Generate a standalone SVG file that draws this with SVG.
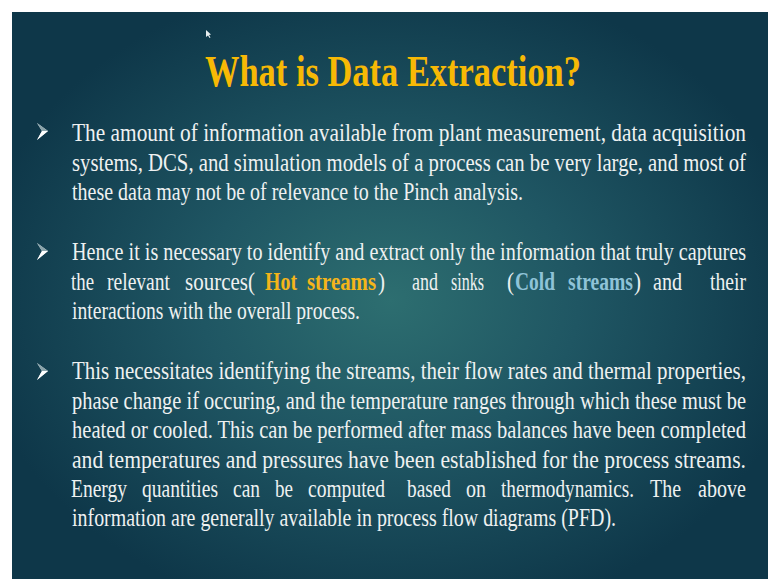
<svg xmlns="http://www.w3.org/2000/svg" width="768" height="579" viewBox="0 0 768 579">
  <defs>
    <radialGradient id="slideBg" cx="390" cy="300" r="420" gradientUnits="userSpaceOnUse" gradientTransform="translate(390 300) scale(1 0.78) translate(-390 -300)">
      <stop offset="0" stop-color="#2d6e70"/>
      <stop offset="0.45" stop-color="#1f5663"/>
      <stop offset="1" stop-color="#0e3749"/>
    </radialGradient>
    <g id="bullet">
      <polygon points="0,0 11,8 0,17 5,8" fill="#d9e2e4"/>
      <polygon points="0,17 11,8 5,8" fill="#ffffff"/>
      <polygon points="0,0 11,8 5,8" fill="#8aa3aa"/>
    </g>
  </defs>
  <style>
    .title { font-family: "Liberation Serif", "Times New Roman", serif; font-weight: bold; font-size: 44px; fill: #f7b905; }
    .body { font-family: "Liberation Serif", "Times New Roman", serif; font-size: 25px; fill: #eef1f1; }
    .hot { fill: #f4b51a; font-weight: bold; }
    .cold { fill: #8fc3d8; font-weight: bold; }
  </style>

  <!-- page margin and slide background -->
  <rect x="0" y="0" width="768" height="579" fill="#ffffff"/>
  <rect x="12" y="12" width="756" height="567" fill="url(#slideBg)"/>

  <!-- pointer -->
  <polygon points="206,30 206,37 208,35.5 209.5,38 210.5,37.5 209,35 211,34.5" fill="#e8eef0"/>

  <!-- title -->
  <text class="title" x="205" y="86" textLength="376" lengthAdjust="spacingAndGlyphs">What is Data Extraction?</text>

  <!-- bullet markers -->
  <use href="#bullet" x="37" y="123"/>
  <use href="#bullet" x="37" y="243"/>
  <use href="#bullet" x="37" y="363"/>

  <!-- paragraph 1 -->
  <g id="para1" class="body">
    <text x="72" y="141" textLength="674" lengthAdjust="spacingAndGlyphs">The amount of information available from plant measurement, data acquisition</text>
    <text x="72" y="171" textLength="674" lengthAdjust="spacingAndGlyphs">systems, DCS, and simulation models of a process can be very large, and most of</text>
    <text x="72" y="200" textLength="451" lengthAdjust="spacingAndGlyphs">these data may not be of  relevance to the Pinch analysis.</text>
  </g>

  <!-- paragraph 2 (justified line set word by word) -->
  <g id="para2" class="body">
    <text x="72" y="260" textLength="674" lengthAdjust="spacingAndGlyphs">Hence it is necessary to identify and extract only the information that truly captures</text>
    <text x="71" y="290" textLength="23" lengthAdjust="spacingAndGlyphs">the</text>
    <text x="107" y="290" textLength="63" lengthAdjust="spacingAndGlyphs">relevant</text>
    <text x="185" y="290" textLength="70" lengthAdjust="spacingAndGlyphs">sources(</text>
    <text x="265" y="290" class="hot" textLength="32" lengthAdjust="spacingAndGlyphs">Hot</text>
    <text x="307" y="290" class="hot" textLength="69" lengthAdjust="spacingAndGlyphs">streams</text>
    <text x="378" y="290" textLength="7" lengthAdjust="spacingAndGlyphs">)</text>
    <text x="412" y="290" textLength="26" lengthAdjust="spacingAndGlyphs">and</text>
    <text x="451" y="290" textLength="33" lengthAdjust="spacingAndGlyphs">sinks</text>
    <text x="507" y="290" textLength="7" lengthAdjust="spacingAndGlyphs">(</text>
    <text x="515" y="290" class="cold" textLength="40" lengthAdjust="spacingAndGlyphs">Cold</text>
    <text x="568" y="290" class="cold" textLength="65" lengthAdjust="spacingAndGlyphs">streams</text>
    <text x="634" y="290" textLength="7" lengthAdjust="spacingAndGlyphs">)</text>
    <text x="653" y="290" textLength="29" lengthAdjust="spacingAndGlyphs">and</text>
    <text x="710" y="290" textLength="36" lengthAdjust="spacingAndGlyphs">their</text>
    <text x="72" y="319" textLength="288" lengthAdjust="spacingAndGlyphs">interactions with the overall process.</text>
  </g>

  <!-- paragraph 3 -->
  <g id="para3" class="body">
    <text x="72" y="379" textLength="674" lengthAdjust="spacingAndGlyphs">This necessitates identifying the streams, their flow rates and thermal properties,</text>
    <text x="72" y="409" textLength="674" lengthAdjust="spacingAndGlyphs">phase change if occuring, and the temperature ranges through which these must be</text>
    <text x="72" y="438" textLength="674" lengthAdjust="spacingAndGlyphs">heated or cooled. This can be performed after mass balances have been completed</text>
    <text x="72" y="468" textLength="674" lengthAdjust="spacingAndGlyphs">and temperatures and pressures have been established for the process streams.</text>
    <text x="71" y="497" textLength="56" lengthAdjust="spacingAndGlyphs">Energy</text>
    <text x="142" y="497" textLength="76" lengthAdjust="spacingAndGlyphs">quantities</text>
    <text x="233" y="497" textLength="27" lengthAdjust="spacingAndGlyphs">can</text>
    <text x="275" y="497" textLength="18" lengthAdjust="spacingAndGlyphs">be</text>
    <text x="308" y="497" textLength="77" lengthAdjust="spacingAndGlyphs">computed</text>
    <text x="407" y="497" textLength="44" lengthAdjust="spacingAndGlyphs">based</text>
    <text x="466" y="497" textLength="20" lengthAdjust="spacingAndGlyphs">on</text>
    <text x="501" y="497" textLength="133" lengthAdjust="spacingAndGlyphs">thermodynamics.</text>
    <text x="650" y="497" textLength="31" lengthAdjust="spacingAndGlyphs">The</text>
    <text x="698" y="497" textLength="48" lengthAdjust="spacingAndGlyphs">above</text>
    <text x="72" y="526" textLength="544" lengthAdjust="spacingAndGlyphs">information are generally available in process flow diagrams (PFD).</text>
  </g>
</svg>
